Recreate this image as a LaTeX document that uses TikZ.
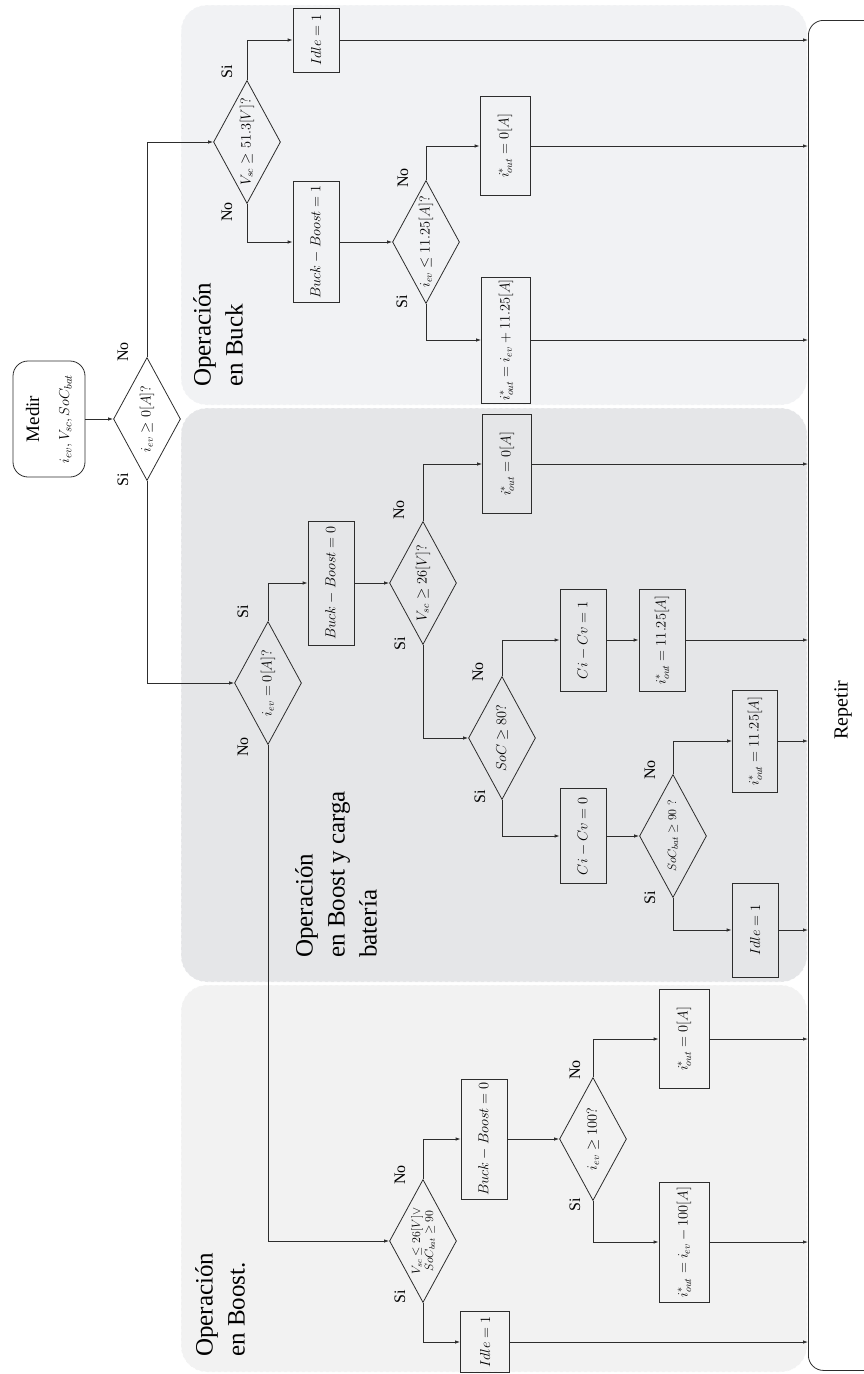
\documentclass[tikz,border=0pt]{standalone}
\usepackage[no-math]{fontspec}
\setmainfont{Liberation Serif}
\usetikzlibrary{shapes.geometric,arrows.meta}

\definecolor{lineclr}{RGB}{45,45,45}
\definecolor{buckfill}{RGB}{241,242,244}
\definecolor{chargefill}{RGB}{229,230,232}
\definecolor{boostfill}{RGB}{242,242,242}

\tikzset{
  region/.style={rounded corners=26pt, draw=white, dashed, line width=0.6pt},
  proc/.style={draw=lineclr, line width=0.8pt, rectangle, rotate=90, inner sep=0pt,
    font=\fontsize{14}{17}\selectfont},
  decision/.style={draw=lineclr, line width=0.8pt, diamond, shape aspect=1.84, rotate=90,
    inner sep=-1pt, minimum width=123pt, minimum height=67pt,
    font=\fontsize{14.5}{17}\selectfont},
  startbox/.style={draw=lineclr, line width=0.8pt, rectangle, rounded corners=15pt,
    rotate=90, inner sep=0pt, align=center},
  yn/.style={rotate=90, inner sep=0pt, font=\fontsize{16}{18}\selectfont},
  regionlbl/.style={rotate=90, inner sep=0pt, align=left, anchor=north west,
    font=\fontsize{25}{32}\selectfont},
  arr/.style={draw=lineclr, line width=0.8pt, -{Latex[length=5pt,width=3.5pt]}},
}

\begin{document}
\begin{tikzpicture}[x=1pt,y=-1pt]
\useasboundingbox (0,0) rectangle (864,1374);
\clip (0,0) rectangle (864,1374);

% operating regions
\path[region, fill=buckfill]   (181,5)   rectangle (807,405);
\path[region, fill=chargefill] (181,408) rectangle (807,982);
\path[region, fill=boostfill]  (181,985) rectangle (807,1372);

\node[regionlbl] (lblbuck)   at (193,387)  {Operación\\en Buck};
\node[regionlbl] (lblcharge) at (295,958)  {Operación\\en Boost y carga\\batería};
\node[regionlbl] (lblboost)  at (195,1357) {Operación\\en Boost.};

% final block
\node[draw=lineclr, line width=0.8pt, rounded corners=15pt, anchor=north west,
  minimum width=200pt, minimum height=1350pt, inner sep=0pt] (repbox) at (808,20) {};
\node[rotate=90, inner sep=0pt, font=\fontsize{20}{22}\selectfont] (reptxt) at (843,710) {Repetir};

% start
\node[startbox, minimum width=116pt, minimum height=72pt, font=\fontsize{19}{30}\selectfont]
  (medir) at (49,419) {Medir\\{\fontsize{15}{30}\selectfont$i_{ev}, V_{sc}, SoC_{bat}$}};

% decisions
\node[decision] (dA) at (147,419) {$i_{ev}\geq 0[A]?$};
\node[decision] (dB) at (247,142) {$V_{sc}\geq 51.3[V]?$};
\node[decision] (dC) at (426,242) {$i_{ev}\leq 11.25[A]?$};
\node[decision] (dD) at (268,683) {$i_{ev}=0[A]?$};
\node[decision] (dE) at (423,583) {$V_{sc}\geq 26[V]?$};
\node[decision] (dF) at (502,738) {$SoC\geq 80?$};
\node[decision, font=\fontsize{12.5}{14}\selectfont] (dG) at (673,836) {$SoC_{bat}\geq 90\;?$};
\node[decision, align=center, font=\fontsize{12}{13}\selectfont] (dH) at (423,1241)
  {$V_{sc}\leq 26[V]\vee$\\$SoC_{bat}\geq 90$};
\node[decision] (dI) at (593,1139) {$i_{ev}\geq 100?$};

% process boxes
\node[proc, minimum width=64pt,  minimum height=46pt] (idleA) at (316,40)   {$Idle=1$};
\node[proc, minimum width=121pt, minimum height=46pt] (bbA)   at (316,242)  {$Buck-Boost=1$};
\node[proc, minimum width=99pt,  minimum height=50pt] (outA)  at (505,146)  {$i^{*}_{out}=0[A]$};
\node[proc, minimum width=126pt, minimum height=49pt] (outB)  at (506,340)  {$i^{*}_{out}=i_{ev}+11.25[A]$};
\node[proc, minimum width=124pt, minimum height=46pt] (bbB)   at (331,583)  {$Buck-Boost=0$};
\node[proc, minimum width=99pt,  minimum height=49pt] (outC)  at (507,464)  {$i^{*}_{out}=0[A]$};
\node[proc, minimum width=102pt, minimum height=46pt] (cvA)   at (583,640)  {$Ci-Cv=1$};
\node[proc, minimum width=102pt, minimum height=46pt] (outD)  at (662,640)  {$i^{*}_{out}=11.25[A]$};
\node[proc, minimum width=95pt,  minimum height=46pt] (cvB)   at (583,836)  {$Ci-Cv=0$};
\node[proc, minimum width=102pt, minimum height=45pt] (outE)  at (755,741)  {$i^{*}_{out}=11.25[A]$};
\node[proc, minimum width=94pt,  minimum height=46pt] (idleB) at (755,930)  {$Idle=1$};
\node[proc, minimum width=120pt, minimum height=46pt] (bbC)   at (484,1139) {$Buck-Boost=0$};
\node[proc, minimum width=99pt,  minimum height=50pt] (outF)  at (684,1039) {$i^{*}_{out}=0[A]$};
\node[proc, minimum width=120pt, minimum height=50pt] (outG)  at (684,1242) {$i^{*}_{out}=i_{ev}-100[A]$};
\node[proc, minimum width=61pt,  minimum height=49pt] (idleC) at (485,1342) {$Idle=1$};

% branch labels
\node[yn] (dAno) at (123,352)  {No};  \node[yn] (dAsi) at (123,480)  {Si};
\node[yn] (dBsi) at (227,72)   {Si};  \node[yn] (dBno) at (227,212)  {No};
\node[yn] (dCno) at (403,178)  {No};  \node[yn] (dCsi) at (402,302)  {Si};
\node[yn] (dDsi) at (243,612)  {Si};  \node[yn] (dDno) at (243,747)  {No};
\node[yn] (dEno) at (399,510)  {No};  \node[yn] (dEsi) at (400,644)  {Si};
\node[yn] (dFno) at (478,672)  {No};  \node[yn] (dFsi) at (480,797)  {Si};
\node[yn] (dGno) at (650,770)  {No};  \node[yn] (dGsi) at (650,898)  {Si};
\node[yn] (dHno) at (400,1175) {No};  \node[yn] (dHsi) at (400,1297) {Si};
\node[yn] (dIno) at (575,1070) {No};  \node[yn] (dIsi) at (575,1205) {Si};

% connectors
\draw[arr] (medir.south) -- (dA.north);
\draw[arr] (dA.east) |- (dB.north);
\draw[arr] (dA.west) |- (dD.north);
\draw[arr] (dB.east) |- (idleA.north);
\draw[arr] (dB.west) |- (bbA.north);
\draw[arr] (bbA.south) -- (dC.north);
\draw[arr] (dC.east) |- (outA.north);
\draw[arr] (dC.west) |- (outB.north);
\draw[arr] (dD.east) |- (bbB.north);
\draw[arr] (bbB.south) -- (dE.north);
\draw[arr] (dE.east) |- (outC.north);
\draw[arr] (dE.west) |- (dF.north);
\draw[arr] (dF.east) |- (cvA.north);
\draw[arr] (cvA.south) -- (outD.north);
\draw[arr] (dF.west) |- (cvB.north);
\draw[arr] (cvB.south) -- (dG.north);
\draw[arr] (dG.east) |- (outE.north);
\draw[arr] (dG.west) |- (idleB.north);
\draw[arr] (dD.west) |- (dH.north);
\draw[arr] (dH.east) |- (bbC.north);
\draw[arr] (bbC.south) -- (dI.north);
\draw[arr] (dI.east) |- (outF.north);
\draw[arr] (dI.west) |- (outG.north);
\draw[arr] (dH.west) |- (idleC.north);
\foreach \n in {idleA,outA,outB,outC,outD,outE,idleB,outF,outG,idleC}
  \draw[arr] (\n.south) -- (\n.south -| repbox.west);
\end{tikzpicture}
\end{document}
